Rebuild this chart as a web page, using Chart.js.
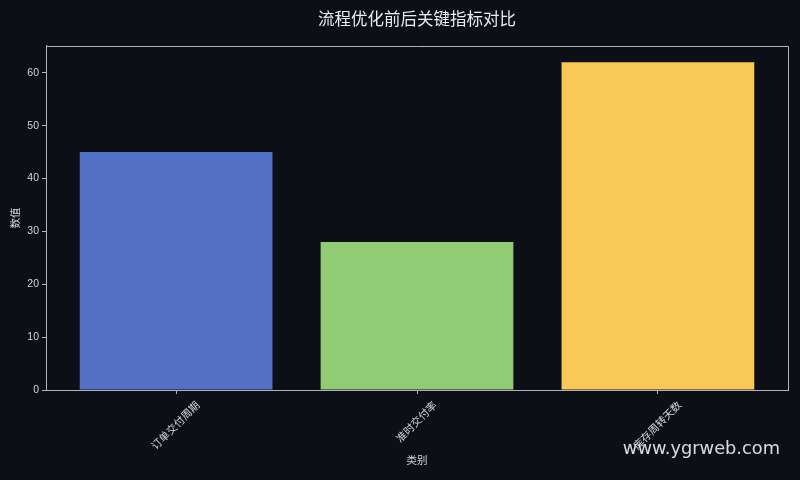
<!DOCTYPE html>
<html>
<head>
<meta charset="utf-8">
<script src="https://cdn.jsdelivr.net/npm/chart.js@4.4.1/dist/chart.umd.min.js"></script>
<style>
html,body{margin:0;padding:0;background:#0c0f15;}
canvas{display:block;}
</style>
</head>
<body>
<canvas id="c" width="800" height="480"></canvas>
<script>
const categories = ['订单交付周期', '准时交付率', '库存周转天数'];
const values = [45, 28, 62];
const barColors = ['#5470c6', '#91cc75', '#fac858'];
const yTicks = [0, 10, 20, 30, 40, 50, 60];
const titleText = '流程优化前后关键指标对比';
const xTitle = '类别';
const yTitle = '数值';
const watermark = 'www.ygrweb.com';

const BG = '#0c0f15';
const AXIS = '#b4b4b4';
const TXT = '#d6d6d6';
const FONT = '"Liberation Sans", "Noto Sans CJK SC", sans-serif';

const decor = {
  id: 'decor',
  beforeDraw(chart) {
    const ctx = chart.ctx;
    ctx.save();
    ctx.fillStyle = BG;
    ctx.fillRect(0, 0, chart.width, chart.height);
    ctx.restore();
  },
  afterDraw(chart) {
    const ctx = chart.ctx;
    const a = chart.chartArea;
    const xs = chart.scales.x;
    ctx.save();
    // top & right spines
    ctx.strokeStyle = AXIS;
    ctx.lineWidth = 1;
    ctx.beginPath();
    ctx.moveTo(Math.round(a.left) + 0.5, Math.round(a.top) + 0.5);
    ctx.lineTo(Math.round(a.right) + 0.5, Math.round(a.top) + 0.5);
    ctx.lineTo(Math.round(a.right) + 0.5, Math.round(a.bottom) + 0.5);
    ctx.stroke();
    // rotated, centered category labels
    ctx.fillStyle = TXT;
    ctx.font = '10.5px ' + FONT;
    ctx.textAlign = 'center';
    ctx.textBaseline = 'middle';
    categories.forEach((c, i) => {
      const x = xs.getPixelForValue(i);
      const w = ctx.measureText(c).width;
      const h = 10.5;
      const half = (w + h) * Math.SQRT1_2 / 2;
      ctx.save();
      ctx.translate(x, a.bottom + 10 + half);
      ctx.rotate(-Math.PI / 4);
      ctx.fillText(c, 0, 0);
      ctx.restore();
    });
    // watermark
    ctx.font = '17.8px "DejaVu Sans", sans-serif';
    ctx.fillStyle = 'rgba(235,235,235,0.92)';
    ctx.textAlign = 'right';
    ctx.textBaseline = 'alphabetic';
    ctx.fillText(watermark, 780, 454);
    ctx.restore();
  }
};

new Chart(document.getElementById('c'), {
  type: 'bar',
  data: {
    datasets: [{
      data: values.map((v, i) => ({ x: i, y: v })),
      backgroundColor: barColors,
      borderWidth: 0,
      barPercentage: 0.8,
      categoryPercentage: 1.0
    }]
  },
  options: {
    responsive: false,
    animation: false,
    devicePixelRatio: 1,
    layout: { padding: { left: 0, right: 12, top: 0, bottom: 0 } },
    plugins: {
      legend: { display: false },
      tooltip: { enabled: false },
      title: {
        display: true,
        fullSize: false,
        text: titleText,
        color: '#ececec',
        font: { family: '"Noto Sans CJK SC", sans-serif', size: 16.5, weight: 'normal' },
        padding: { top: 8.5, bottom: 17.5 }
      }
    },
    scales: {
      x: {
        type: 'linear',
        offset: false,
        min: -0.54,
        max: 2.54,
        afterBuildTicks: s => { s.ticks = categories.map((c, i) => ({ value: i })); },
        ticks: { display: false },
        grid: { display: true, offset: false, drawOnChartArea: false, drawTicks: true, tickLength: 4, tickColor: AXIS },
        border: { display: true, color: AXIS, width: 1 },
        title: {
          display: true, text: xTitle, color: TXT,
          font: { family: FONT, size: 10.5 },
          padding: { top: 0, bottom: 12.5 }
        },
        afterFit: s => { s.height = 90; }
      },
      y: {
        type: 'linear',
        min: 0,
        max: 65.1,
        afterBuildTicks: s => { s.ticks = yTicks.map(v => ({ value: v })); },
        ticks: { color: TXT, font: { family: FONT, size: 10.5 }, padding: 3 },
        grid: { display: true, drawOnChartArea: false, drawTicks: true, tickLength: 4, tickColor: AXIS },
        border: { display: true, color: AXIS, width: 1 },
        title: {
          display: true, text: yTitle, color: TXT,
          font: { family: FONT, size: 10.5 },
          padding: { top: 10, bottom: 0 }
        },
        afterFit: s => { s.width = 46; }
      }
    }
  },
  plugins: [decor]
});
</script>
</body>
</html>
